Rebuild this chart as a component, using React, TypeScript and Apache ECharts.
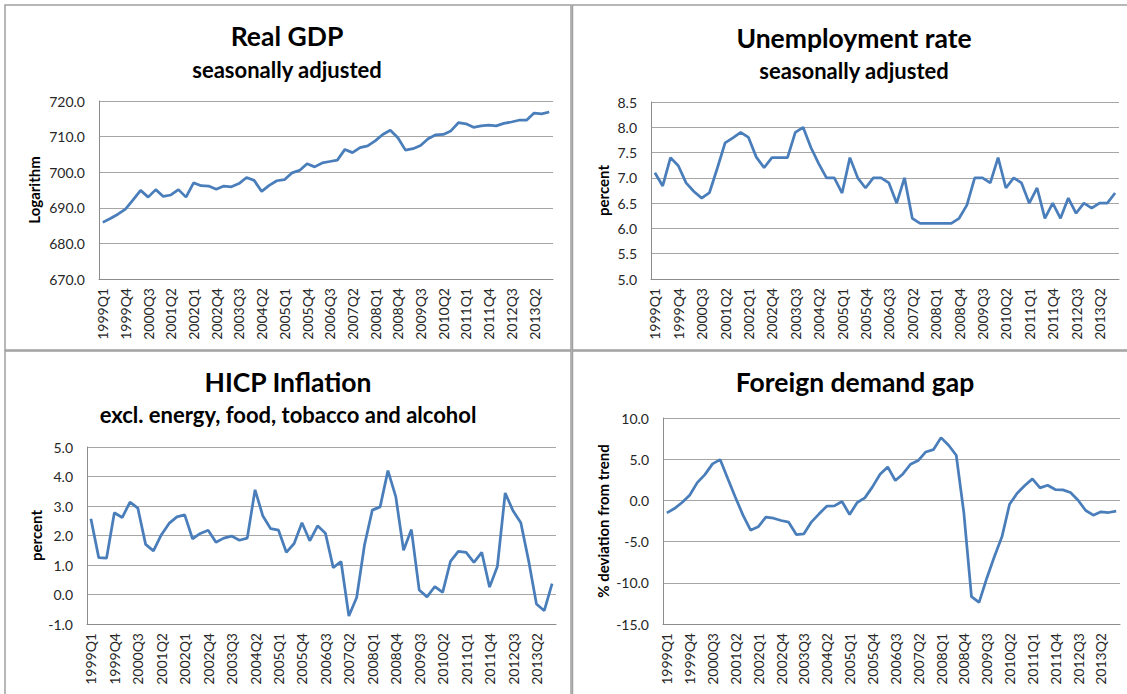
import React, { useEffect, useRef } from "react";
import * as echarts from "echarts";

const quarters: string[] = [];
for (let y = 1999; y <= 2013; y++) for (let q = 1; q <= 4; q++) quarters.push(`${y}Q${q}`);

const realGdp = [
  685.9, 687.0, 688.2, 689.6, 692.2, 694.9, 693.0, 695.1, 693.2, 693.6,
  695.1, 693.0, 697.0, 696.2, 696.1, 695.2, 696.1, 695.9, 696.8, 698.5,
  697.7, 694.6, 696.3, 697.6, 697.9, 699.8, 700.5, 702.4, 701.5, 702.6,
  703.0, 703.4, 706.4, 705.5, 706.9, 707.4, 708.8, 710.6, 711.8, 709.7,
  706.2, 706.6, 707.5, 709.4, 710.5, 710.6, 711.6, 713.9, 713.6, 712.6,
  713.0, 713.2, 713.0, 713.7, 714.1, 714.6, 714.6, 716.6, 716.4, 716.9,
];

const unemployment = [
  7.1, 6.84, 7.4, 7.24, 6.9, 6.73, 6.6, 6.71, 7.19, 7.69,
  7.79, 7.9, 7.8, 7.41, 7.2, 7.4, 7.4, 7.4, 7.9, 8.0,
  7.6, 7.28, 7.0, 7.0, 6.7, 7.4, 7.0, 6.8, 7.0, 7.0,
  6.9, 6.5, 7.0, 6.2, 6.1, 6.1, 6.1, 6.1, 6.1, 6.2,
  6.46, 7.0, 7.0, 6.9, 7.4, 6.8, 7.0, 6.9, 6.5, 6.8,
  6.2, 6.5, 6.2, 6.6, 6.3, 6.5, 6.4, 6.5, 6.5, 6.7,
];

const hicpCore = [
  2.57, 1.25, 1.23, 2.77, 2.61, 3.13, 2.93, 1.7, 1.48, 2.02,
  2.41, 2.63, 2.7, 1.89, 2.07, 2.18, 1.77, 1.91, 1.98, 1.84,
  1.91, 3.55, 2.66, 2.23, 2.18, 1.43, 1.73, 2.43, 1.82, 2.33,
  2.08, 0.91, 1.12, -0.73, -0.1, 1.68, 2.86, 2.97, 4.2, 3.32,
  1.5, 2.2, 0.15, -0.08, 0.27, 0.07, 1.12, 1.46, 1.43, 1.09,
  1.43, 0.25, 0.95, 3.44, 2.84, 2.43, 1.14, -0.32, -0.55, 0.37,
];

const foreignDemandGap = [
  -1.51, -0.99, -0.26, 0.63, 2.16, 3.13, 4.43, 4.95, 2.65, 0.39,
  -1.79, -3.61, -3.21, -2.04, -2.16, -2.44, -2.64, -4.14, -4.05, -2.6,
  -1.63, -0.7, -0.66, -0.14, -1.71, -0.26, 0.31, 1.64, 3.17, 4.06,
  2.41, 3.21, 4.39, 4.83, 5.88, 6.16, 7.62, 6.69, 5.48, -1.5,
  -11.69, -12.37, -9.47, -6.84, -4.42, -0.46, 0.87, 1.8, 2.61, 1.52,
  1.84, 1.32, 1.28, 0.95, 0.02, -1.23, -1.79, -1.39, -1.47, -1.31,
];

const FONT = "Lato, 'Open Sans', sans-serif";
const LINE = "#4A7EBB";
const GRID_LINE = "#a6a6a6";
const AXIS_LINE = "#8c8c8c";
const LABEL = "#262626";
const BORDER = "#a0a0a0";

const panels = [
  {
    title: "Real GDP", sub: "seasonally adjusted", tx: 287, ty: 36, sy: 69,
    grid: { left: 99, top: 101, width: 454, height: 178 },
    min: 670, max: 720, interval: 10, yName: "Logarithm", nameX: 34, data: realGdp,
  },
  {
    title: "Unemployment rate", sub: "seasonally adjusted", tx: 854, ty: 38, sy: 70,
    grid: { left: 651, top: 102, width: 468, height: 177 },
    min: 5, max: 8.5, interval: 0.5, yName: "percent", nameX: 603, data: unemployment,
  },
  {
    title: "HICP Inflation", sub: "excl. energy, food, tobacco and alcohol", tx: 288, ty: 382, sy: 414,
    grid: { left: 87, top: 447, width: 469, height: 177 },
    min: -1, max: 5, interval: 1, yName: "percent", nameX: 36, data: hicpCore,
  },
  {
    title: "Foreign demand gap", sub: "", tx: 855, ty: 382, sy: 0,
    grid: { left: 663, top: 418, width: 457, height: 206 },
    min: -15, max: 10, interval: 5, yName: "% deviation from trend", nameX: 603, data: foreignDemandGap,
  },
];

export default function App() {
  const ref = useRef<HTMLDivElement>(null);
  useEffect(() => {
    document.body.style.margin = "0";
    const chart = echarts.init(ref.current!, null, { renderer: "svg" });
    const graphics: any[] = [];
    const boxes = [
      [5, 5, 566, 345],
      [572.5, 5, 560, 345],
      [5, 351, 566, 350],
      [572.5, 351, 560, 350],
    ];
    boxes.forEach(([x, y, w, h]) =>
      graphics.push({
        type: "rect", shape: { x, y, width: w, height: h },
        style: { fill: "none", stroke: BORDER, lineWidth: 1.5 }, silent: true,
      })
    );
    panels.forEach((p) => {
      graphics.push({
        type: "text", x: p.tx, y: p.ty,
        style: { text: p.title, fontFamily: FONT, fontWeight: "bold", fontSize: 26.5, fill: "#000", align: "center", verticalAlign: "middle" },
      });
      if (p.sub) {
        graphics.push({
          type: "text", x: p.tx, y: p.sy,
          style: { text: p.sub, fontFamily: FONT, fontWeight: "bold", fontSize: 22, fill: "#000", align: "center", verticalAlign: "middle" },
        });
      }
      graphics.push({
        type: "text", x: p.nameX, y: p.grid.top + p.grid.height / 2, rotation: Math.PI / 2,
        style: { text: p.yName, fontFamily: FONT, fontWeight: "bold", fontSize: 15, fill: "#000", align: "center", verticalAlign: "middle" },
      });
    });

    const option: any = {
      animation: false,
      backgroundColor: "#ffffff",
      grid: panels.map((p) => ({ ...p.grid, containLabel: false })),
      xAxis: panels.map((p, i) => ({
        type: "category",
        gridIndex: i,
        data: quarters,
        boundaryGap: true,
        axisTick: { show: false },
        axisLine: { show: true, onZero: false, lineStyle: { color: AXIS_LINE, width: 1 } },
        axisLabel: { interval: 2, rotate: 90, fontFamily: FONT, fontSize: 14, color: LABEL, margin: 9 },
        splitLine: { show: false },
      })),
      yAxis: panels.map((p, i) => ({
        type: "value",
        gridIndex: i,
        min: p.min,
        max: p.max,
        interval: p.interval,
        axisTick: { show: false },
        axisLine: { show: true, lineStyle: { color: AXIS_LINE, width: 1 } },
        axisLabel: {
          fontFamily: FONT, fontSize: 14, color: LABEL, margin: 14,
          formatter: (v: number) => v.toFixed(1),
        },
        splitLine: { show: true, lineStyle: { color: GRID_LINE, width: 1 } },
      })),
      series: panels.map((p, i) => ({
        type: "line",
        name: p.title,
        xAxisIndex: i,
        yAxisIndex: i,
        data: p.data,
        symbol: "none",
        lineStyle: { color: LINE, width: 2.75 },
      })),
      graphic: graphics,
    };
    chart.setOption(option);
    return () => chart.dispose();
  }, []);
  return <div ref={ref} style={{ width: 1127, height: 694 }} />;
}
